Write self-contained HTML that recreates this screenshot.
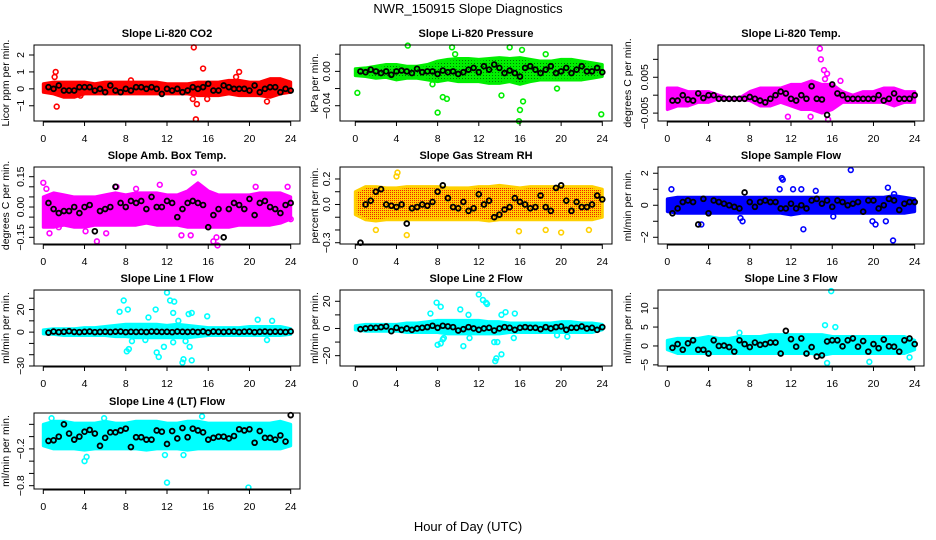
<!DOCTYPE html>
<html><head><meta charset="utf-8">
<style>
body{margin:0;background:#fff;}
svg{display:block;font-family:"Liberation Sans",sans-serif;}
.tt{font-weight:bold;font-size:11px;text-anchor:middle;}
.tk{font-size:10.5px;}
</style></head>
<body>
<svg id="chart" width="936" height="540" viewBox="0 0 936 540">
<defs>
<pattern id="pg" width="3" height="3" patternUnits="userSpaceOnUse"><rect width="3" height="3" fill="#00ee00"/><rect width="1" height="1" fill="#007700"/></pattern>
<pattern id="py" width="2" height="2" patternUnits="userSpaceOnUse"><rect width="2" height="2" fill="#ffd000"/><rect width="1" height="1" fill="#ee2200"/></pattern>
</defs>
<text x="468" y="13" font-size="13" text-anchor="middle">NWR_150915  Slope Diagnostics</text>
<text x="468" y="531" font-size="13" text-anchor="middle">Hour of Day (UTC)</text>
</svg>
<script>
const hours25=[0,1,2,3,4,5,6,7,8,9,10,11,12,13,14,15,16,17,18,19,20,21,22,23,24];
const hours48=[0.5,1,1.5,2,2.5,3,3.5,4,4.5,5,5.5,6,6.5,7,7.5,8,8.5,9,9.5,10,10.5,11,11.5,12,12.5,13,13.5,14,14.5,15,15.5,16,16.5,17,17.5,18,18.5,19,19.5,20,20.5,21,21.5,22,22.5,23,23.5,24];
const xTicks=[0,4,8,12,16,20,24];

const co2Lo=[-0.2,-0.3,-0.5,-0.5,-0.3,-0.3,-0.3,-0.3,-0.3,-0.3,-0.3,-0.3,-0.3,-0.3,-0.3,-0.4,-0.4,-0.4,-0.3,-0.4,-0.4,-0.4,-0.5,-0.3,-0.2];
const co2Hi=[0.3,0.4,0.4,0.4,0.4,0.3,0.4,0.4,0.4,0.4,0.4,0.4,0.3,0.3,0.3,0.4,0.4,0.4,0.5,0.5,0.4,0.4,0.6,0.6,0.4];
const co2Out=[[1.2,1.0],[1.3,-1.05],[1.1,0.7],[14.6,2.45],[14.8,-1.8],[15.5,1.2],[14.9,-0.9],[14.5,-0.6],[19.0,1.0],[18.7,0.7],[21.7,-0.75],[15.9,-0.6],[3.6,-0.4],[8.5,0.5]];
const co2Black=[0.1,0,0.2,-0.1,-0.1,-0.1,0.1,0.1,0.1,-0.1,0,-0.2,0.2,-0.1,-0.2,0,-0.1,0.1,0.1,0,0.1,0,-0.3,0,-0.1,0,-0.2,-0.1,0.1,0,0.1,0.3,-0.1,-0.1,0.2,0.1,0,0,0,-0.1,0.2,-0.2,0,0.1,0.1,-0.2,0,-0.1];

const prLo=[-0.005,-0.006,-0.008,-0.007,-0.01,-0.008,-0.008,-0.01,-0.012,-0.01,-0.012,-0.012,-0.012,-0.014,-0.014,-0.012,-0.015,-0.012,-0.01,-0.01,-0.01,-0.01,-0.01,-0.008,-0.006];
const prHi=[0.003,0.004,0.006,0.008,0.008,0.006,0.006,0.008,0.012,0.014,0.015,0.015,0.014,0.015,0.016,0.015,0.016,0.014,0.012,0.012,0.014,0.014,0.012,0.01,0.008];
const prOut=[[0.2,-0.025],[5.1,0.03],[8.0,-0.048],[7.5,-0.015],[8.5,-0.03],[8.9,-0.032],[9.7,0.02],[9.4,0.028],[14.2,-0.028],[15.9,-0.058],[16.0,-0.045],[16.3,-0.035],[23.9,-0.05],[15.0,0.028],[18.5,0.02],[16.2,0.025],[19.6,-0.02]];
const prBlack=[0,-0.001,0.002,0,-0.002,0,-0.004,0,0.001,0,-0.002,0.003,-0.001,0,0,-0.003,0.001,-0.001,0,-0.003,-0.001,0.002,0.004,-0.001,0.006,0.002,0.008,0.004,-0.002,0.001,-0.002,-0.006,0.004,0.006,0.002,-0.002,0.002,0.006,-0.002,0,0.004,-0.002,0.002,0.006,0,0,0.004,-0.001];

const tLo=[-0.004,-0.003,-0.003,-0.002,-0.002,-0.001,-0.0012,-0.0012,-0.0015,-0.003,-0.003,-0.002,-0.003,-0.004,-0.004,-0.005,-0.004,-0.002,-0.002,-0.002,-0.002,-0.002,-0.003,-0.002,-0.002];
const tHi=[0.002,0.002,0.001,0.001,0.001,0,-0.0008,-0.0008,0.001,0.002,0.002,0.002,0.003,0.003,0.004,0.003,0.003,0.001,0,0.001,0.001,0.002,0.002,0.001,0.001];
const tOut=[[11.7,-0.006],[13.9,-0.006],[14.8,0.013],[14.9,0.01],[15.2,0.007],[15.5,0.006],[16.8,0.004],[15.6,-0.0068],[15.3,0.0045],[14.5,0.003]];
const tBlack=[-0.0015,-0.0015,0,-0.0012,-0.0015,0.0005,-0.0008,0,0,-0.001,-0.001,-0.001,-0.001,-0.001,-0.001,-0.0005,-0.001,-0.0015,-0.002,-0.001,0,0.001,0.0005,-0.001,-0.0015,0,-0.001,0.0025,-0.001,-0.0012,-0.0055,0.003,0.0005,0,-0.001,-0.001,-0.001,-0.001,-0.001,-0.001,0,-0.0015,-0.001,0.0005,-0.001,-0.001,-0.001,0];

const abLo=[-0.1,-0.1,-0.09,-0.1,-0.1,-0.09,-0.09,-0.09,-0.09,-0.09,-0.08,-0.09,-0.09,-0.09,-0.1,-0.1,-0.1,-0.1,-0.1,-0.09,-0.09,-0.09,-0.09,-0.08,-0.06];
const abHi=[0.05,0.07,0.06,0.05,0.05,0.05,0.06,0.07,0.06,0.07,0.07,0.07,0.06,0.06,0.08,0.12,0.08,0.06,0.06,0.06,0.06,0.07,0.07,0.07,0.05];
const abOut=[[0,0.12],[0.3,0.09],[0.6,-0.13],[5.2,-0.17],[6.1,-0.13],[7.1,0.1],[9.0,0.09],[11.3,0.11],[14.6,0.17],[14.3,-0.14],[13.4,-0.14],[16.8,-0.15],[16.5,-0.17],[16.9,-0.19],[20.6,0.1],[23.7,0.1],[24,-0.06],[1.5,-0.1],[4.1,-0.12]];
const abBlack=[0.02,-0.01,-0.03,-0.02,-0.02,0,-0.03,0,0.01,-0.12,-0.02,-0.01,0,0.1,0.02,0,0.03,0.02,0.03,-0.01,0.05,0,0,0.03,0.02,-0.05,-0.01,0.02,0.03,0.02,0.01,-0.1,-0.04,-0.01,-0.15,-0.01,0.02,0.01,-0.01,0.04,-0.04,0.02,0.03,0,-0.01,-0.03,0.01,0.02];

const rhLo=[-0.08,-0.12,-0.13,-0.12,-0.12,-0.12,-0.12,-0.12,-0.12,-0.12,-0.12,-0.12,-0.12,-0.13,-0.12,-0.12,-0.12,-0.12,-0.12,-0.12,-0.12,-0.12,-0.12,-0.12,-0.1];
const rhHi=[0.1,0.14,0.14,0.13,0.13,0.14,0.14,0.14,0.14,0.13,0.13,0.13,0.14,0.14,0.15,0.14,0.13,0.14,0.14,0.14,0.14,0.14,0.14,0.14,0.12];
const rhOut=[[4.1,0.25],[4.0,0.22],[5.0,-0.24],[2.0,-0.2],[15.9,-0.21],[20.0,-0.22],[22.7,-0.2],[18.5,-0.2]];
const rhBlack=[-0.3,0,0.03,0.1,0.12,0,-0.01,-0.02,0,-0.15,-0.03,-0.02,0,-0.01,0.02,0.1,0.15,0.05,-0.02,-0.03,0.02,-0.05,-0.03,0.08,0,0.03,-0.1,-0.08,-0.04,-0.02,0.05,0.02,0,-0.03,-0.02,0.07,-0.02,-0.05,0.13,0.15,0.03,-0.05,0.02,-0.02,-0.02,0,0.07,0.04];

const sfLo=[-0.4,-0.5,-0.5,-0.5,-0.5,-0.5,-0.5,-0.5,-0.5,-0.5,-0.5,-0.5,-0.6,-0.5,-0.5,-0.5,-0.5,-0.5,-0.5,-0.5,-0.5,-0.5,-0.5,-0.5,-0.4];
const sfHi=[0.4,0.5,0.5,0.5,0.5,0.5,0.5,0.5,0.5,0.5,0.5,0.5,0.5,0.5,0.5,0.5,0.5,0.5,0.5,0.5,0.5,0.5,0.6,0.5,0.4];
const sfOut=[[0.4,1.0],[3.3,-1.2],[7.3,-1.0],[7.1,-0.8],[11.1,1.7],[11.2,1.6],[10.9,1.0],[12.2,1.0],[13.0,1.0],[14.4,0.9],[13.2,-1.5],[17.8,2.2],[19.9,-1.0],[20.2,-1.2],[21.4,1.1],[21.2,-1.0],[21.9,-2.2],[22.0,0.7],[16.1,-0.7]];
const sfBlack=[-0.5,-0.2,0.2,0.3,0.2,-1.2,0.4,-0.5,0.3,0.2,0.1,0,-0.1,-0.2,0.8,0.2,-0.1,0.2,0.3,0.2,0.2,-0.2,-0.2,0.1,-0.2,0,-0.2,0.3,0.4,0.1,0.3,-0.1,0.3,0.2,0,0.1,0.2,-0.4,0.3,0.3,-0.2,0,0.4,0.3,-0.3,0.1,0.2,0.2];

const l1Lo=[-1.5,-2,-3,-3,-3,-3,-3,-4,-4,-5,-5,-5,-5,-5,-5,-4,-3,-3,-3,-3,-3,-3,-3,-3,-2];
const l1Hi=[2,3,3,3,4,4,5,6,7,7,7,7,6,7,6,5,4,4,4,4,5,5,5,5,3];
const l1Out=[[7.8,28],[8.2,20],[7.4,18],[8.1,-17],[8.3,-15],[8.6,-8],[10.9,20],[11.0,-18],[11.2,-22],[11.7,-13],[12.0,35],[12.3,28],[12.7,27],[12.6,17],[12.6,-9],[13.5,-27],[13.6,-24],[13.8,-8],[14.1,16],[14.4,17],[14.2,-13],[14.4,-25],[15.9,14],[10.2,13],[9.9,-7],[20.8,11],[21.7,-7],[22.2,10],[13.1,10]];
const l1Black=[-0.5,0.5,0,0.3,0.8,0.2,0,0.3,0.5,0,0.2,0.3,0.1,0.4,0.5,0,0.3,0.2,0.3,0.1,0.5,0.4,0.2,0.3,0,0.5,0.3,0.2,0.4,0.1,0.6,-0.3,0.5,0.3,0.2,0.4,0.5,0.1,0.4,0.5,0,0.3,0.5,0.2,0.4,0.3,0.1,0.6];

const l2Lo=[-1,-2,-2,-2,-2,-3,-3,-3,-3,-4,-4,-4,-4,-4,-4,-3,-3,-3,-3,-3,-3,-3,-3,-3,-1];
const l2Hi=[2,3,3,3,3,4,4,5,6,6,6,6,6,5,5,4,4,4,4,4,5,5,4,4,3];
const l2Out=[[7.9,19],[8.3,16],[7.3,11],[8.0,-12],[8.3,-11],[8.5,-8],[8.6,-7],[10.2,14],[11.0,10],[11.1,-7],[12.0,25],[12.4,21],[12.7,19],[12.8,18],[13.5,-10],[13.8,-10],[13.6,-24],[13.7,-22],[14.2,-19],[14.6,12],[14.2,10],[15.4,-7],[15.5,11],[10.5,-13],[19.6,-5],[20.6,-6]];
const l2Black=[-0.5,0,0.5,0.5,1,1.5,-2,0.5,-1,0,-1,0,0.5,1,2,0.5,2,1.5,1,-1.5,-0.5,1,0,-1,0,0.5,-1.5,0,1,0.5,-1,0.5,1,0.5,0.5,-0.5,1,0,1,1.5,-1,0.5,0.5,1.5,0,0.5,-1,1];

const l3Lo=[-1,-2,-2,-2,-2,-2,-2,-2,-2,-2,-2,-2,-2,-2,-2,-2.5,-2,-2,-2,-2,-2,-2,-2,-2,-1];
const l3Hi=[1.5,2,2,2,2.5,2,2,2.5,2.5,2.5,3,3,3,3,3,3,2.5,2.5,2.5,2.5,2.5,2.5,2.5,2.5,1.5];
const l3Out=[[15.9,14.5],[15.3,5.5],[16.3,5],[15.5,-4.5],[19.6,-4.2],[23.5,-3],[7,3.5]];
const l3Black=[-0.5,0.5,-1,0.7,1.5,-1,-1,-2,1.5,0,0.1,-0.3,-1.5,1.5,0.5,-0.3,0.9,0.3,0.5,0.9,0.9,-2,4,1.8,-0.2,2,-2,-0.3,-2.8,-2.5,1.2,1.5,1.5,-0.1,1.5,2,-0.2,1.3,-1.5,0.5,-0.6,1.7,-0.1,-0.2,-1.5,1.5,2,0.5];

const l4Lo=[-0.15,-0.2,-0.2,-0.2,-0.22,-0.2,-0.2,-0.2,-0.2,-0.2,-0.22,-0.2,-0.2,-0.2,-0.22,-0.2,-0.2,-0.2,-0.2,-0.2,-0.2,-0.2,-0.2,-0.2,-0.15];
const l4Hi=[0.2,0.25,0.25,0.22,0.22,0.22,0.25,0.22,0.22,0.25,0.25,0.25,0.22,0.22,0.25,0.25,0.22,0.22,0.22,0.22,0.22,0.22,0.22,0.25,0.2];
const l4Out=[[4.0,-0.4],[4.2,-0.33],[12.0,-0.75],[19.9,-0.83],[13.6,-0.3],[5.9,0.3],[0.8,0.3],[15.4,0.33],[11.8,-0.3]];
const l4Black=[-0.07,-0.06,0,0.2,0.05,-0.05,0,0.08,0.11,0.05,-0.15,-0.02,0.07,0.07,0.1,0.13,-0.17,-0.01,-0.01,-0.05,-0.05,0.1,0.08,-0.12,0.09,-0.03,0.14,-0.01,0.13,0.1,0.07,-0.05,-0.02,0,0,-0.03,0.01,0.12,0.1,0.12,-0.1,0.09,-0.02,-0.02,-0.05,0.02,-0.08,0.35];

const svg=document.getElementById('chart');
const NS='http://www.w3.org/2000/svg';
function mk(tag,attrs,parent){const e=document.createElementNS(NS,tag);for(const k in attrs)e.setAttribute(k,attrs[k]);(parent||svg).appendChild(e);return e;}

const cols=[{l:34,r:300,x0:43.3,x24:290.7,yl:9},{l:340,r:612,x0:355.3,x24:602.3,yl:318},{l:658,r:924,x0:667.3,x24:914.7,yl:631}];
const rows=[{t:45,b:121},{t:167,b:244},{t:290,b:366},{t:413,b:489}];

function panel(key,title,ylab,c,r,ymin,ymax,ticks,labels,color,fill,lo,hi,out,black){
  const C=cols[c],R=rows[r];
  const g=mk('g',{});
  
  
  const X=h=>C.x0+(C.x24-C.x0)*h/24;
  const Y=v=>R.b-(v-ymin)/(ymax-ymin)*(R.b-R.t);
  const t=mk('text',{x:(C.l+C.r)/2,y:R.t-8,class:'tt'},g);t.textContent=title;
  
  
  const yl=mk('text',{x:C.yl,y:(R.t+R.b)/2,'font-size':'10.5','text-anchor':'middle',transform:`rotate(-90 ${C.yl} ${(R.t+R.b)/2})`},g);yl.textContent=ylab;
  
  
  let pts=hours25.map((h,i)=>X(h)+','+Y(hi[i]));
  for(let i=hours25.length-1;i>=0;i--)pts.push(X(hours25[i])+','+Y(lo[i]));
  const band=mk('polygon',{points:pts.join(' '),fill:fill,stroke:color,'stroke-width':3,'stroke-linejoin':'round'},g);
  
  
  out.forEach(p=>{const e=mk('circle',{cx:X(p[0]),cy:Y(p[1]),r:2.4,fill:'none',stroke:color,'stroke-width':1.6},g);
    
    });
  hours48.forEach((h,i)=>{const e=mk('circle',{cx:X(h),cy:Y(black[i]),r:2.4,fill:'none',stroke:'#000','stroke-width':1.8},g);
    
    });
  const box=mk('rect',{x:C.l,y:R.t,width:C.r-C.l,height:R.b-R.t,fill:'none',stroke:'#000','stroke-width':1},g);
  
  
  mk('line',{x1:X(0),x2:X(24),y1:R.b+1,y2:R.b+1,stroke:'#000'},g);
  xTicks.forEach(h=>{mk('line',{x1:X(h),x2:X(h),y1:R.b,y2:R.b+5,stroke:'#000'},g);
    const tx=mk('text',{x:X(h),y:R.b+21,class:'tk','text-anchor':'middle'},g);tx.textContent=h;
    
    });
  ticks.forEach((v,i)=>{const y=Y(v);mk('line',{x1:C.l-5,x2:C.l,y1:y,y2:y,stroke:'#000'},g);
    if(labels[i]!==''){const tx=mk('text',{x:C.l-10,y:y,class:'tk','text-anchor':'middle',transform:`rotate(-90 ${C.l-10} ${y})`},g);tx.textContent=labels[i];
    
    }});
}

panel('co2','Slope Li-820 CO2','Licor ppm per min.',0,0,-1.9,2.59,[-1,0,1,2],['\u22121','0','1','2'],'#ff0000','#ff0000',co2Lo,co2Hi,co2Out,co2Black);
panel('pressure','Slope Li-820 Pressure','kPa per min.',1,0,-0.0578,0.0307,[-0.04,-0.02,0,0.02],['\u22120.04','','0.00',''],'#00ee00','url(#pg)',prLo,prHi,prOut,prBlack);
panel('li820-temp','Slope Li-820 Temp.','degrees C per min.',2,0,-0.0072,0.014,[-0.005,0,0.005,0.01],['\u22120.005','','0.005',''],'#ff00ff','#ff00ff',tLo,tHi,tOut,tBlack);
panel('amb-box-temp','Slope Amb. Box Temp.','degrees C per min.',0,1,-0.183,0.198,[-0.15,-0.1,-0.05,0,0.05,0.1,0.15],['\u22120.15','','','0.00','','','0.15'],'#ff00ff','#ff00ff',abLo,abHi,abOut,abBlack);
panel('gas-stream-rh','Slope Gas Stream RH','percent per min.',1,1,-0.31,0.294,[-0.3,-0.2,-0.1,0,0.1,0.2],['\u22120.3','','','0.0','','0.2'],'#ffd000','url(#py)',rhLo,rhHi,rhOut,rhBlack);
panel('sample-flow','Slope Sample Flow','ml/min per min.',2,1,-2.42,2.39,[-2,-1,0,1,2],['\u22122','','0','','2'],'#0000ff','#0000ff',sfLo,sfHi,sfOut,sfBlack);
panel('line1-flow','Slope Line 1 Flow','ml/min per min.',0,2,-30,37.3,[-30,-20,-10,0,10,20,30],['\u221230','','','0','','20',''],'#00ffff','#00ffff',l1Lo,l1Hi,l1Out,l1Black);
panel('line2-flow','Slope Line 2 Flow','ml/min per min.',1,2,-27.6,28.3,[-20,-10,0,10,20],['\u221220','','0','','20'],'#00ffff','#00ffff',l2Lo,l2Hi,l2Out,l2Black);
panel('line3-flow','Slope Line 3 Flow','ml/min per min.',2,2,-5.3,14.8,[-5,0,5,10],['\u22125','0','5','10'],'#00ffff','#00ffff',l3Lo,l3Hi,l3Out,l3Black);
panel('line4-flow','Slope Line 4 (LT) Flow','ml/min per min.',0,3,-0.854,0.385,[-0.8,-0.6,-0.4,-0.2,0,0.2],['\u22120.8','','','\u22120.2','',''],'#00ffff','#00ffff',l4Lo,l4Hi,l4Out,l4Black);
</script>
</body></html>
